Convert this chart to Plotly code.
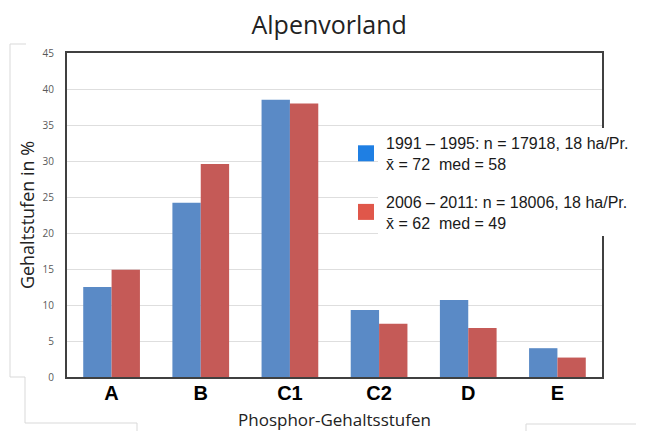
import plotly.graph_objects as go

categories = ["A", "B", "C1", "C2", "D", "E"]
values_1991_1995 = [12.5, 24.2, 38.5, 9.3, 10.7, 4.0]
values_2006_2011 = [14.9, 29.6, 38.0, 7.4, 6.8, 2.7]
y_ticks = [0, 5, 10, 15, 20, 25, 30, 35, 40, 45]
legend_1 = "1991 – 1995: n = 17918, 18 ha/Pr.<br>x\u0304 = 72 \u00a0med = 58"
legend_2 = "2006 – 2011: n = 18006, 18 ha/Pr.<br>x\u0304 = 62 \u00a0med = 49"

W, H = 646, 431
L, R, T, B = 67, 44, 53, 54
PW, PH = W - L - R, H - T - B


def xp(px):
    return (px - L) / PW


def yp(py):
    return (H - B - py) / PH


BAR_BLUE = "#5a8ac6"
BAR_RED = "#c55a57"
LEG_BLUE = "#1f7fe3"
LEG_RED = "#e0574a"

fig = go.Figure()
fig.add_trace(go.Bar(x=categories, y=values_1991_1995, marker=dict(color=BAR_BLUE, line=dict(width=0)),
                     showlegend=False))
fig.add_trace(go.Bar(x=categories, y=values_2006_2011, marker=dict(color=BAR_RED, line=dict(width=0)),
                     showlegend=False))
fig.add_trace(go.Scatter(x=[None], y=[None], mode="markers", name=legend_1, legendgroup="g1",
                         marker=dict(symbol="square", size=16, color=LEG_BLUE, line=dict(width=0))))
fig.add_trace(go.Scatter(x=[None], y=[None], mode="markers", name=legend_2, legendgroup="g2",
                         marker=dict(symbol="square", size=16, color=LEG_RED, line=dict(width=0))))

frame_col = "#d9d9d9"
shapes = [
    dict(type="rect", xref="paper", yref="paper", x0=xp(378), x1=xp(660), y0=yp(236), y1=yp(128),
         fillcolor="white", line=dict(width=0), layer="above"),
    dict(type="path", xref="paper", yref="paper",
         path=f"M{xp(26)},{yp(44)} L{xp(10)},{yp(44)} L{xp(10)},{yp(377)} L{xp(25)},{yp(377)} "
              f"L{xp(25)},{yp(423)} L{xp(137)},{yp(423)} L{xp(137)},{yp(432)}",
         line=dict(color=frame_col, width=1)),
    dict(type="path", xref="paper", yref="paper",
         path=f"M{xp(526)},{yp(432)} L{xp(526)},{yp(424)} L{xp(636)},{yp(424)}",
         line=dict(color=frame_col, width=1)),
]

fig.update_layout(
    width=W, height=H,
    margin=dict(l=L, r=R, t=T, b=B, autoexpand=False),
    paper_bgcolor="white", plot_bgcolor="white",
    barmode="group", bargap=0.364, bargroupgap=0,
    title=dict(text="Alpenvorland", x=0.49, xref="paper", xanchor="center", y=1 - 25 / H, yanchor="middle",
               font=dict(family="Open Sans", size=25, color="#222222")),
    xaxis=dict(
        showline=True, linecolor="#404040", linewidth=2, mirror=True,
        showgrid=False, ticks="", ticklabelstandoff=-3,
        tickfont=dict(family="Liberation Sans", size=20, color="black", weight="bold"),
        title=dict(text="Phosphor-Gehaltsstufen", standoff=15,
                   font=dict(family="Open Sans", size=17, color="#222222")),
    ),
    yaxis=dict(
        range=[0, 45], tickvals=y_ticks, showline=True, linecolor="#404040", linewidth=2, mirror=True,
        showgrid=True, gridcolor="#dedede", gridwidth=1, zeroline=False, ticks="",
        ticklabelstandoff=9,
        tickfont=dict(family="Open Sans", size=10, color="#595959"),
        title=dict(text="Gehaltstufen in %", standoff=3,
                   font=dict(family="Open Sans", size=18, color="#222222")),
    ),
    legend=dict(
        x=xp(346), xanchor="left", y=yp(126), yanchor="top",
        bgcolor="rgba(0,0,0,0)", borderwidth=0, tracegroupgap=14,
        font=dict(family="Liberation Sans", size=16, color="#1a1a1a"),
        valign="middle",
    ),
    shapes=shapes,
)

fig.write_html("out.html", config={"displayModeBar": False},
               post_script="document.body.style.margin='0';document.body.style.overflow='hidden';")
